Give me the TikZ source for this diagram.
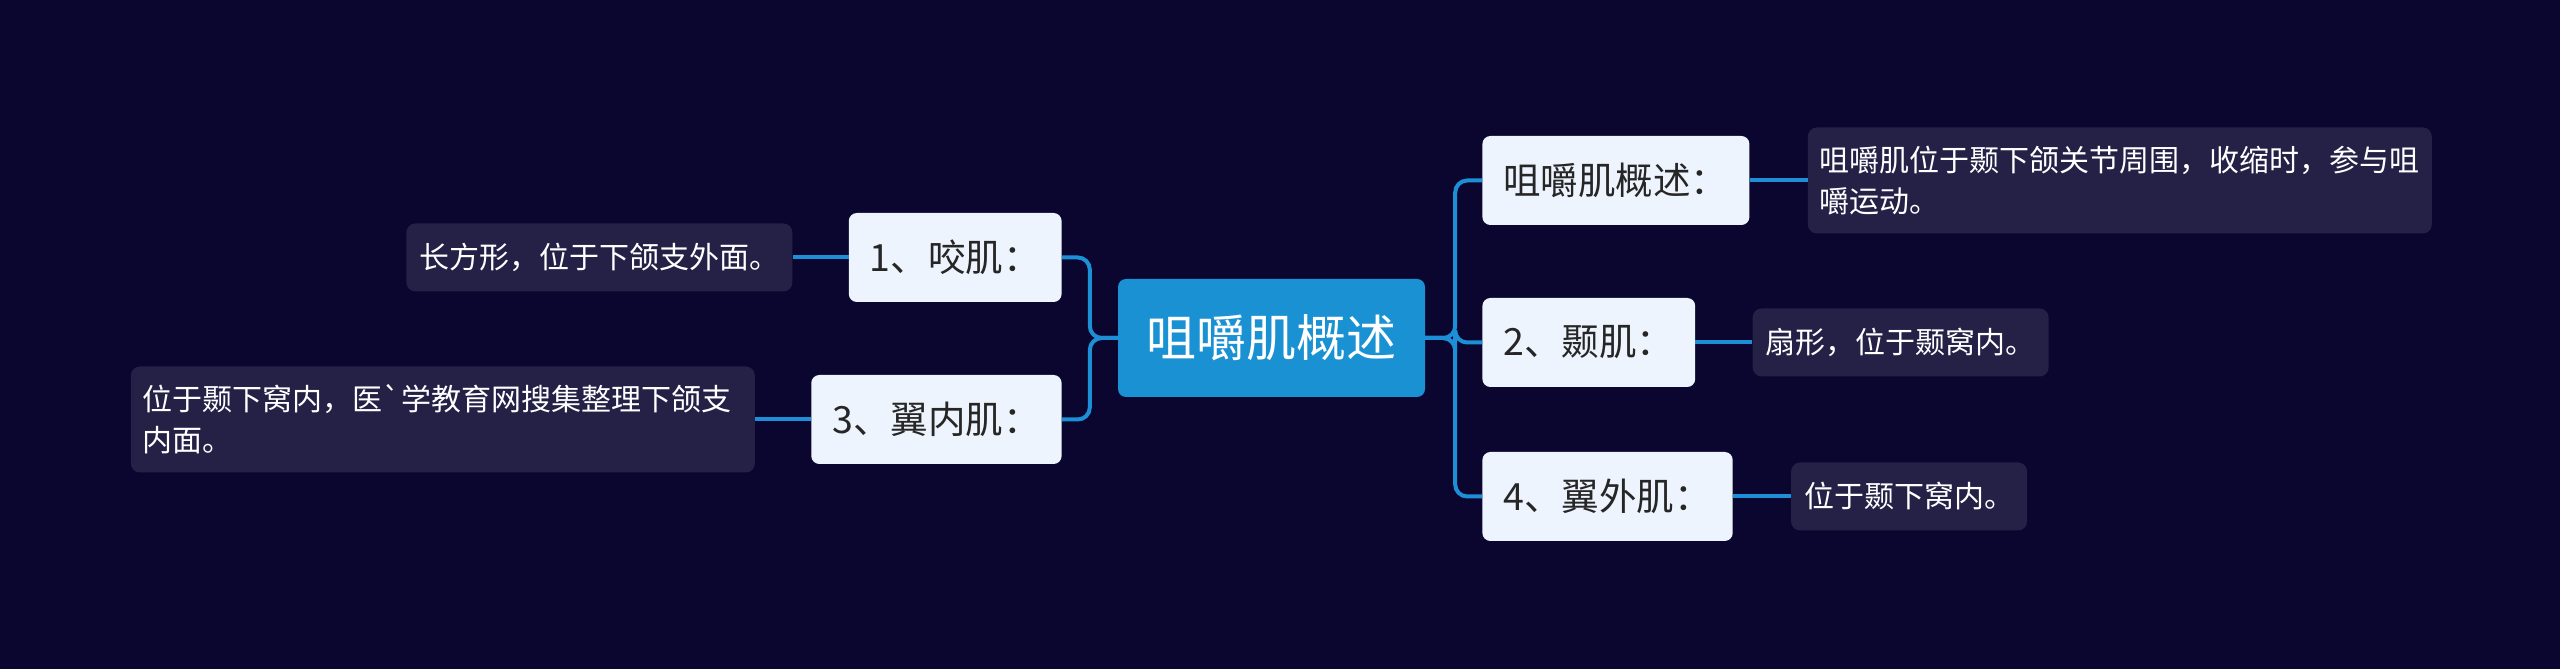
\documentclass[tikz,border=0pt]{standalone}
\usepackage{fontspec}
\setmainfont{Noto Sans CJK SC}
\usepackage{tikz}
\usetikzlibrary{positioning}
\usepackage{xcolor}
\definecolor{bgnavy}{HTML}{0A0630}
\definecolor{leaffill}{HTML}{242046}
\definecolor{topicfill}{HTML}{EEF4FD}
\definecolor{rootfill}{HTML}{1A91D3}
\definecolor{linkblue}{HTML}{1D8FD6}
\tikzset{
  root/.style={
    rectangle, rounded corners=8pt, fill=rootfill,
    minimum width=307pt, minimum height=118pt,
    align=center, text=white,
    font=\fontsize{50pt}{60pt}\selectfont
  },
  topic/.style={
    rectangle, rounded corners=8pt, fill=topicfill,
    inner xsep=21pt, minimum height=89pt,
    align=center, text=black!85,
    font=\fontsize{37.5pt}{45pt}\selectfont
  },
  leaf/.style={
    rectangle, rounded corners=9pt, fill=leaffill,
    inner xsep=13pt, minimum height=68pt,
    align=left, text=white,
    font=\fontsize{30pt}{41pt}\selectfont
  },
  longleaf/.style={
    leaf, text width=600pt, inner xsep=12pt, minimum height=106pt
  },
  link/.style={draw=linkblue, line width=4pt, rounded corners=12pt}
}

\begin{document}
\begin{tikzpicture}[node distance=57pt]
  \fill[bgnavy] (0,0) rectangle (2560pt,669pt);
  \node[root] (center) at (1271.5pt,331pt) {咀嚼肌概述};

  \node[topic, right=57pt of center, yshift=157.5pt] (desc) {咀嚼肌概述：};
  \node[topic, right=57pt of center, yshift=-4.5pt] (temporal) {2、颞肌：};
  \node[topic, right=57pt of center, yshift=-158.5pt] (lateral) {4、翼外肌：};
  \node[topic, left=56pt of center, yshift=80.5pt] (masseter) {1、咬肌：};
  \node[topic, left=56pt of center, yshift=-81.5pt] (medial) {3、翼内肌：};

  \node[longleaf, right=58pt of desc] (descleaf) {咀嚼肌位于颞下颌关节周围，收缩时，参与咀\\嚼运动。};
  \node[leaf, right=57pt of temporal] (templeaf) {扇形，位于颞窝内。};
  \node[leaf, right=58pt of lateral] (latleaf) {位于颞下窝内。};
  \node[leaf, left=56pt of masseter] (massleaf) {长方形，位于下颌支外面。};
  \node[longleaf, left=56pt of medial] (medleaf) {位于颞下窝内，医\textasciigrave 学教育网搜集整理下颌支\\内面。};

  \foreach \t in {desc, temporal, lateral}
    \draw[link] (center.east) -- ++(30pt,0) |- (\t.west);
  \foreach \t in {masseter, medial}
    \draw[link] (center.west) -- ++(-28pt,0) |- (\t.east);

  \draw[link] (desc) -- (descleaf);
  \draw[link] (temporal) -- (templeaf);
  \draw[link] (lateral) -- (latleaf);
  \draw[link] (masseter) -- (massleaf);
  \draw[link] (medial) -- (medleaf);
\end{tikzpicture}
\end{document}
